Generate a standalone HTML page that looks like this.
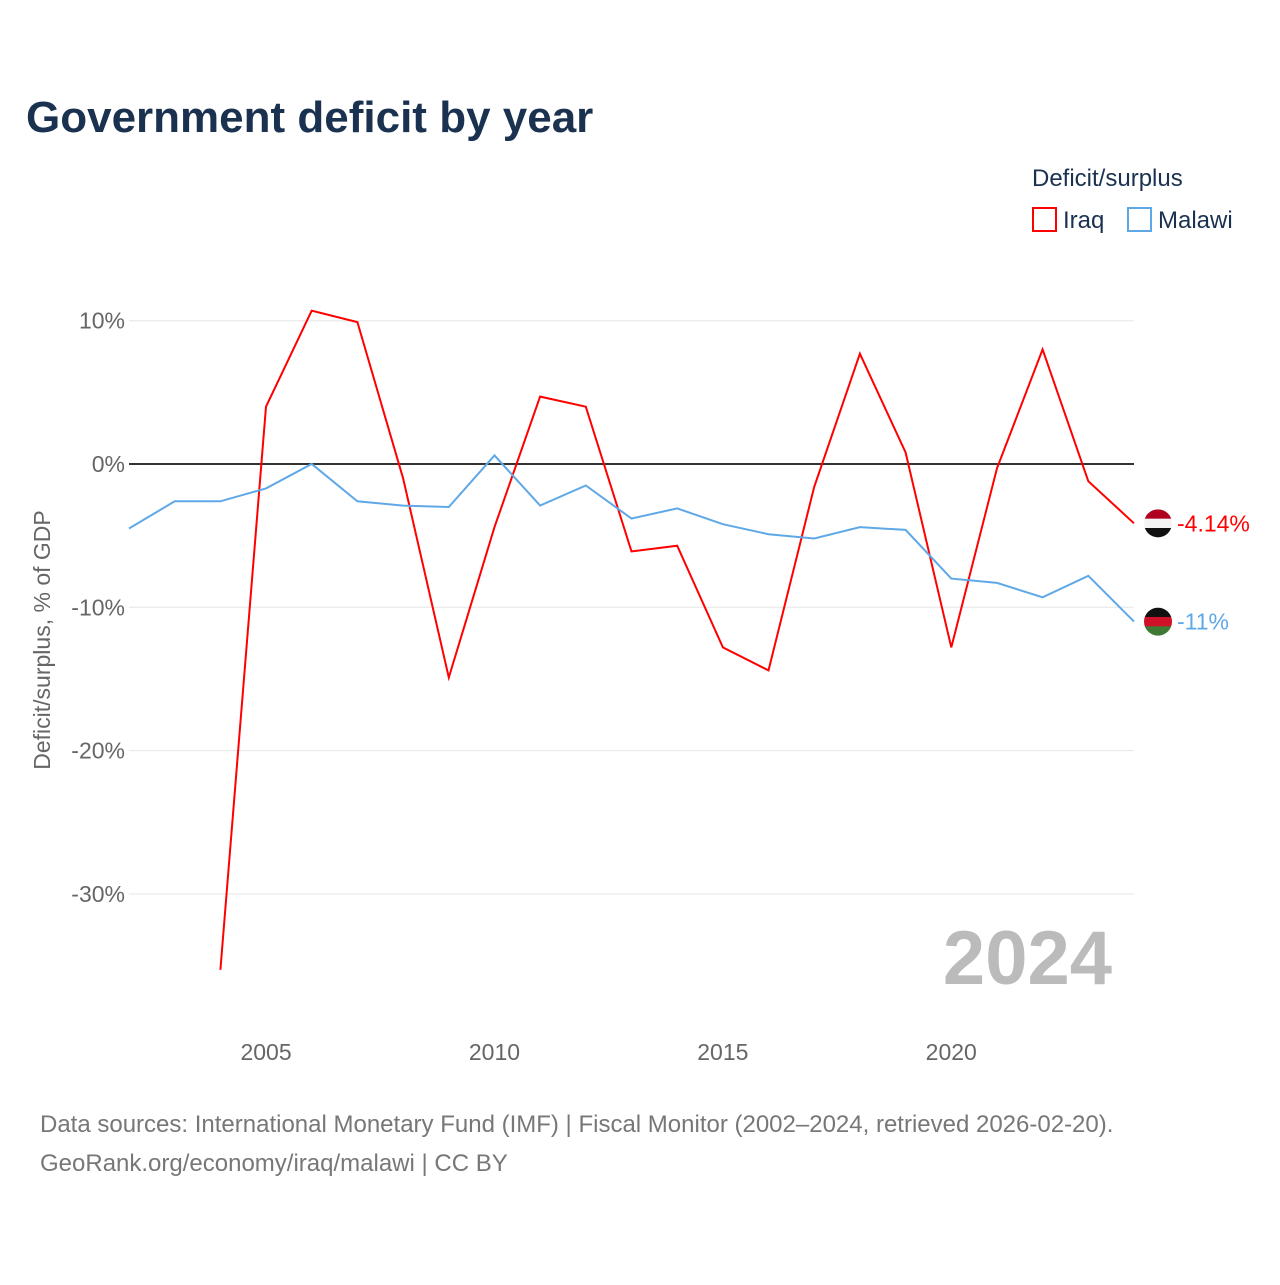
<!DOCTYPE html>
<html><head><meta charset="utf-8">
<style>
body{margin:0;background:#fff;font-family:"Liberation Sans",sans-serif;}
svg text{font-family:"Liberation Sans",sans-serif;}
</style></head>
<body>
<svg width="1280" height="1280" xmlns="http://www.w3.org/2000/svg" id="chart">
<text x="26" y="132" font-size="44" font-weight="bold" fill="#1a3150">Government deficit by year</text>
<g>
<text x="1032" y="186" font-size="24" fill="#1a3150">Deficit/surplus</text>
<g><rect x="1033" y="208" width="23" height="23" fill="none" stroke="#f00" stroke-width="2"/><text x="1063" y="228" font-size="24" fill="#1a3150">Iraq</text></g>
<g><rect x="1128" y="208" width="23" height="23" fill="none" stroke="#5fa8e8" stroke-width="2"/><text x="1158" y="228" font-size="24" fill="#1a3150">Malawi</text></g>
</g>
<g id="grid"></g>
<g id="yticks"></g>
<g id="xticks"></g>
<text transform="translate(50,640) rotate(-90)" text-anchor="middle" font-size="23" fill="#666">Deficit/surplus, % of GDP</text>
<text x="1112" y="984" text-anchor="end" font-size="76" font-weight="bold" fill="#bbb">2024</text>
<g id="series"></g>
<text x="40" y="1132" font-size="24" fill="#777">Data sources: International Monetary Fund (IMF) | Fiscal Monitor (2002–2024, retrieved 2026-02-20).</text>
<text x="40" y="1171" font-size="24" fill="#777">GeoRank.org/economy/iraq/malawi | CC BY</text>
</svg>
<script>
const years=[2002,2003,2004,2005,2006,2007,2008,2009,2010,2011,2012,2013,2014,2015,2016,2017,2018,2019,2020,2021,2022,2023,2024];
const iraq=[null,null,-35.3,4.0,10.7,9.9,-1.0,-14.9,-4.4,4.7,4.0,-6.1,-5.7,-12.8,-14.4,-1.6,7.7,0.8,-12.8,-0.3,8.0,-1.2,-4.14];
const malawi=[-4.5,-2.6,-2.6,-1.7,0,-2.6,-2.9,-3.0,0.6,-2.9,-1.5,-3.8,-3.1,-4.2,-4.9,-5.2,-4.4,-4.6,-8.0,-8.3,-9.3,-7.8,-11];
const yTicks=[10,0,-10,-20,-30];
const xTicks=[2005,2010,2015,2020];
const endLabels=["-4.14%","-11%"];
const NS="http://www.w3.org/2000/svg";
const X=y=>129+(y-2002)*(1134-129)/22;
const Y=v=>464-v*14.33;
function mk(t,a,p){const e=document.createElementNS(NS,t);for(const k in a)e.setAttribute(k,a[k]);p.appendChild(e);return e;}
const grid=document.getElementById('grid'),yt=document.getElementById('yticks'),xt=document.getElementById('xticks'),s=document.getElementById('series');
yTicks.forEach(v=>{
 const l=mk('line',{x1:129,x2:1134,y1:Y(v),y2:Y(v),stroke:v===0?'#333':'#e6e6e6','stroke-width':v===0?2:1},grid);
 
 
 const t=mk('text',{x:125,y:Y(v)+8,'text-anchor':'end','font-size':23,fill:'#666'},yt);
 t.textContent=v+'%';
 
 
});
xTicks.forEach(v=>{
 const t=mk('text',{x:X(v),y:1060,'text-anchor':'middle','font-size':23,fill:'#666'},xt);
 t.textContent=v;
 
 
});
function line(vals,color,name,label,bands){
 const pts=[];vals.forEach((v,i)=>{if(v!==null)pts.push(X(years[i]).toFixed(1)+','+Y(v).toFixed(1));});
 const p=mk('polyline',{points:pts.join(' '),fill:'none',stroke:color,'stroke-width':2},s);
 
 
 const lv=vals[vals.length-1];
 const cy=Y(lv);
 const cp=mk('clipPath',{id:'clip-'+name},s);
 mk('circle',{cx:1158,cy:cy,r:14},cp);
 const g=mk('g',{'clip-path':'url(#clip-'+name+')'},s);
 
 
 bands.forEach((c,i)=>mk('rect',{x:1144,y:cy-14+i*28/3,width:28,height:28/3+0.5,fill:c},g));
 const t=mk('text',{x:1177,y:cy+8,'font-size':23,fill:color},s);
 t.textContent=label;
 
 
}
line(iraq,'#f00','iraq',endLabels[0],['#b00020','#f4f4f4','#111']);
line(malawi,'#5fa8e8','malawi',endLabels[1],['#111','#ce1126','#3e7a35']);
</script>
</body></html>
